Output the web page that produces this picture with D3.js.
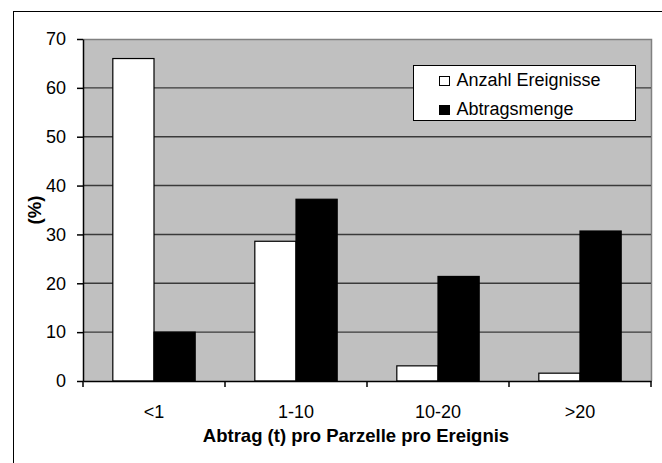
<!DOCTYPE html>
<html>
<head>
<meta charset="utf-8">
<script src="https://cdn.jsdelivr.net/npm/d3@7"></script>
<style>
  html, body { margin: 0; padding: 0; background: #fff; }
  svg { display: block; font-family: "Liberation Sans", Arial, sans-serif; }
</style>
</head>
<body>
<svg id="chart" width="662" height="463"></svg>
<script>
// Erosion classes per plot and event
const categories = ["<1", "1-10", "10-20", ">20"];
const seriesNames = ["Anzahl Ereignisse", "Abtragsmenge"];
const anzahlEreignisse = [66, 28.6, 3.1, 1.6];
const abtragsmenge = [10, 37.2, 21.4, 30.7];
const yTicks = [0, 10, 20, 30, 40, 50, 60, 70];

const seriesFill = { "Anzahl Ereignisse": "#ffffff", "Abtragsmenge": "#000000" };

const rows = categories.map((c, i) => ({
  cat: c,
  values: [
    { key: seriesNames[0], value: anzahlEreignisse[i] },
    { key: seriesNames[1], value: abtragsmenge[i] }
  ]
}));

const svg = d3.select("#chart");
const plot = { left: 83, right: 651, top: 39, bottom: 381 };

// Outer frame
svg.append("rect")
  .attr("x", 13.5).attr("y", 11.5)
  .attr("width", 700).attr("height", 500)
  .attr("fill", "none").attr("stroke", "#000").attr("stroke-width", 1);

const x = d3.scaleBand()
  .domain(categories)
  .range([plot.left, plot.right])
  .paddingInner(0.42)
  .paddingOuter(0.21);

const xInner = d3.scaleBand()
  .domain(seriesNames)
  .range([0, x.bandwidth()]);

const y = d3.scaleLinear().domain([0, 70]).range([plot.bottom, plot.top]);

// Plot area background
svg.append("rect")
  .attr("x", plot.left).attr("y", plot.top)
  .attr("width", plot.right - plot.left).attr("height", plot.bottom - plot.top)
  .attr("fill", "#c0c0c0");

// Plot area border (top and right)
svg.append("path")
  .attr("d", `M${plot.left},${y(70) + 0.5}H${plot.right + 0.5}V${plot.bottom}`)
  .attr("fill", "none").attr("stroke", "#808080").attr("stroke-width", 1.5);

// Horizontal gridlines
svg.append("g")
  .selectAll("line")
  .data(yTicks.filter(t => t > 0 && t < 70))
  .join("line")
  .attr("x1", plot.left).attr("x2", plot.right)
  .attr("y1", d => y(d)).attr("y2", d => y(d))
  .attr("stroke", "#3a3a3a").attr("stroke-width", 1.4);

// Bars
const groups = svg.append("g")
  .selectAll("g")
  .data(rows)
  .join("g")
  .attr("transform", d => `translate(${x(d.cat)},0)`);

groups.selectAll("rect")
  .data(d => d.values)
  .join("rect")
  .attr("x", d => xInner(d.key))
  .attr("y", d => y(d.value))
  .attr("width", xInner.bandwidth())
  .attr("height", d => y(0) - y(d.value))
  .attr("fill", d => seriesFill[d.key])
  .attr("stroke", "#000").attr("stroke-width", 1.2);

// Y axis
const yAxis = svg.append("g")
  .attr("transform", `translate(${plot.left},0)`)
  .call(d3.axisLeft(y).tickValues(yTicks).tickSize(6).tickPadding(11).tickSizeOuter(0));
yAxis.select(".domain").attr("stroke", "#000").attr("stroke-width", 1.5);
yAxis.selectAll(".tick line").attr("stroke", "#000").attr("stroke-width", 1.5);
yAxis.selectAll(".tick text")
  .attr("font-size", 18).attr("fill", "#000")
  .attr("font-family", "Liberation Sans, Arial, sans-serif");

// X axis: labels centred on categories, ticks on category boundaries
const xAxis = svg.append("g")
  .attr("transform", `translate(0,${plot.bottom})`)
  .call(d3.axisBottom(x).tickSize(0).tickPadding(24).tickSizeOuter(0));
xAxis.select(".domain").attr("stroke", "#000").attr("stroke-width", 1.5);
xAxis.selectAll(".tick text")
  .attr("font-size", 18).attr("fill", "#000")
  .attr("font-family", "Liberation Sans, Arial, sans-serif");

const boundaries = categories.map(c => x(c) - (x.step() - x.bandwidth()) / 2)
  .concat([x(categories[categories.length - 1]) + x.bandwidth() + (x.step() - x.bandwidth()) / 2]);
svg.append("g")
  .selectAll("line")
  .data(boundaries)
  .join("line")
  .attr("x1", d => d).attr("x2", d => d)
  .attr("y1", plot.bottom).attr("y2", plot.bottom + 6)
  .attr("stroke", "#000").attr("stroke-width", 1.5);

// Axis titles
svg.append("text")
  .attr("x", 356).attr("y", 442)
  .attr("text-anchor", "middle")
  .attr("font-size", 18.5).attr("font-weight", "bold")
  .text("Abtrag (t) pro Parzelle pro Ereignis");

svg.append("text")
  .attr("transform", `translate(41,${(plot.top + plot.bottom) / 2}) rotate(-90)`)
  .attr("text-anchor", "middle")
  .attr("font-size", 18.5).attr("font-weight", "bold")
  .text("(%)");

// Legend
const legend = svg.append("g").attr("transform", "translate(413,65)");
legend.append("rect")
  .attr("x", 0.5).attr("y", 0.5).attr("width", 222).attr("height", 55)
  .attr("fill", "#fff").attr("stroke", "#000").attr("stroke-width", 1);
const items = legend.selectAll("g.item")
  .data(seriesNames)
  .join("g")
  .attr("class", "item")
  .attr("transform", (d, i) => `translate(0,${i * 29})`);
items.append("rect")
  .attr("x", 26.5).attr("y", 11.5).attr("width", 10).attr("height", 9)
  .attr("fill", d => seriesFill[d]).attr("stroke", "#000").attr("stroke-width", 1);
items.append("text")
  .attr("x", 43.5).attr("y", 20.5)
  .attr("font-size", 18).attr("fill", "#000")
  .text(d => d);
</script>
</body>
</html>
